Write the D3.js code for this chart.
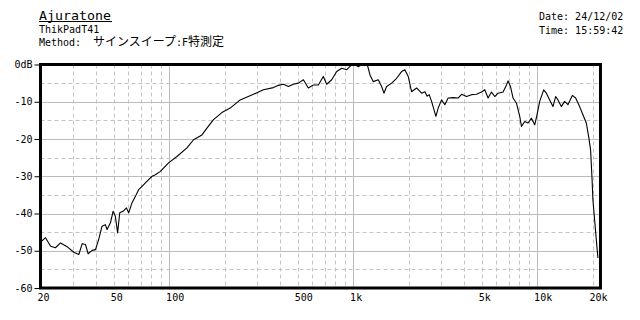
<!DOCTYPE html>
<html>
<head>
<meta charset="utf-8">
<script src="https://cdn.jsdelivr.net/npm/d3@7"></script>
<style>
  html, body { margin: 0; padding: 0; background: #fff; }
  svg { display: block; }
</style>
</head>
<body>
<div id="vis"></div>
<script>
// measured response (Hz / dB)
var freqs = [20, 21.3, 22.7, 24.1, 25.7, 27.9, 30.3, 32.3, 33.7, 35.1, 36.3, 38.2, 39.8, 41.4, 43.2, 45.0, 46.0, 48.0, 49.6, 51.0,
  52.5, 53.9, 56.2, 58.6, 60.3, 62.9, 65.6, 68.3, 71.3, 74.3, 77.4, 80.8, 84.2, 89.6, 99.3, 110.3, 125, 135.8, 150.8, 160.5,
  174.3, 193.6, 214.7, 243.4, 287.4, 325.5, 369, 392.6, 418, 445, 473.6, 504, 536.7, 571, 607.9, 647.3, 688.8, 718.6, 765, 814.5,
  867, 922.8, 982.5, 1024, 1067, 1113, 1160, 1194, 1235, 1287, 1370, 1429, 1471, 1521, 1620, 1724, 1835, 1912, 1993, 2078,
  2213, 2356, 2455, 2527, 2591, 2670, 2818, 2900, 3025, 3152, 3285, 3497, 3722, 3884, 4135, 4401, 4684, 4986, 5196, 5415,
  5650, 5888, 6137, 6532, 6816, 6954, 7165, 7402, 7723, 8046, 8218, 8565, 8925, 9313, 9704, 9988, 10330, 10860, 11230, 11700,
  12195, 12610, 12980, 13540, 14110, 14710, 15540, 16200, 17020, 17740, 18510, 19110, 19530, 19900, 20100, 20530, 20970, 21400]
var levels = [-47.7, -46.5, -48.8, -49.2, -47.9, -48.9, -50.4, -51.0, -48.1, -48.3, -50.8, -49.9, -49.7, -47.0, -43.4, -43.0, -44.3, -42.5, -39.4, -40.7,
  -45.2, -39.8, -39.4, -38.5, -39.8, -37.1, -35.4, -33.6, -32.7, -31.8, -30.9, -30.0, -29.6, -28.7, -26.4, -24.7, -22.4, -20.2, -18.9, -17.1,
  -14.8, -12.9, -11.7, -9.5, -8.0, -6.8, -6.2, -5.6, -5.3, -5.9, -5.3, -5.0, -4.1, -6.3, -5.5, -5.5, -3.2, -5.3, -4.1, -1.9,
  -1.0, -1.4, -0.1, 0, -0.6, 0, -0.3, 0, -2.8, -4.6, -4.1, -5.9, -7.7, -5.9, -5.0, -3.7, -1.9, -1.4, -3.2, -7.3,
  -6.3, -7.7, -7.3, -8.5, -8.1, -9.9, -13.9, -11.7, -9.5, -10.8, -9.0, -8.9, -9.0, -8.0, -8.6, -8.1, -8.0, -7.4, -6.8, -9.0,
  -7.4, -8.6, -7.7, -7.4, -5.5, -4.4, -5.9, -9.0, -10.4, -13.9, -16.6, -15.3, -15.7, -14.4, -16.2, -13.5, -9.9, -6.8, -7.7, -9.5,
  -11.3, -8.6, -9.5, -11.3, -9.9, -10.8, -8.3, -9.0, -11.3, -13.5, -15.7, -19.7, -23.0, -31.0, -36.3, -41.6, -47.0, -51.9]

// axes
var xTicks = [20, 50, 100, 500, 1000, 5000, 10000, 20000]
var xTickLabels = ["20", "50", "100", "500", "1k", "5k", "10k", "20k"]
var yTicks = [0, -10, -20, -30, -40, -50, -60]
var yTickLabels = ["0dB", "-10", "-20", "-30", "-40", "-50", "-60"]
var majorGrid = [100, 1000, 10000]
var minorGrid = [30, 40, 50, 60, 70, 80, 90, 200, 300, 400, 500, 600, 700, 800, 900,
  2000, 3000, 4000, 5000, 6000, 7000, 8000, 9000, 20000]
var dbMajor = [-10, -20, -30, -40, -50]
var dbMinor = [-5, -15, -25, -35, -45, -55]
var fMax = 22100

var mono = "'DejaVu Sans Mono', monospace"
var cjk = "'Noto Sans CJK JP', sans-serif"

var svg = d3.select("#vis")
  .append("svg")
    .attr("width", 640)
    .attr("height", 320)

var x = d3.scaleLog()
    .domain([20, 20000])
    .range([40.5, 592.5])

var y = d3.scaleLinear()
    .domain([-60, 0])
    .range([288, 64.5])

var plotL = x(20), plotR = x(fMax), plotT = y(0), plotB = y(-60)

// grid
var grid = svg.append("g")
grid.selectAll(".vmin").data(minorGrid).enter().append("line")
    .attr("x1", d => Math.round(x(d)) + 0.5).attr("x2", d => Math.round(x(d)) + 0.5)
    .attr("y1", plotT).attr("y2", plotB)
    .attr("stroke", "#c4c4c4").attr("stroke-dasharray", "4,3")
grid.selectAll(".hmin").data(dbMinor).enter().append("line")
    .attr("x1", plotL).attr("x2", plotR)
    .attr("y1", d => Math.round(y(d)) + 0.5).attr("y2", d => Math.round(y(d)) + 0.5)
    .attr("stroke", "#c4c4c4").attr("stroke-dasharray", "4,3")
grid.selectAll(".vmaj").data(majorGrid).enter().append("line")
    .attr("x1", d => Math.round(x(d)) + 0.5).attr("x2", d => Math.round(x(d)) + 0.5)
    .attr("y1", plotT).attr("y2", plotB)
    .attr("stroke", "#bcbcbc")
grid.selectAll(".hmaj").data(dbMajor).enter().append("line")
    .attr("x1", plotL).attr("x2", plotR)
    .attr("y1", d => Math.round(y(d)) + 0.5).attr("y2", d => Math.round(y(d)) + 0.5)
    .attr("stroke", "#bcbcbc")

// response curve
var line = d3.line()
    .x((d, i) => x(freqs[i]))
    .y(d => y(d))

svg.append("path")
    .datum(levels)
    .attr("d", line)
    .attr("fill", "none")
    .attr("stroke", "#000")
    .attr("stroke-width", 1.1)
    .attr("stroke-linejoin", "round")

// frame
svg.append("rect")
    .attr("x", plotL).attr("y", plotT)
    .attr("width", plotR - plotL).attr("height", plotB - plotT)
    .attr("fill", "none")
    .attr("stroke", "#000")
    .attr("stroke-width", 3)

// y axis
var yAxis = svg.append("g")
    .attr("transform", "translate(" + (plotL - 1) + ",0)")
    .call(d3.axisLeft(y).tickValues(yTicks).tickSize(5).tickPadding(2)
      .tickFormat((d, i) => yTickLabels[i]))
    .call(g => g.select(".domain").remove())
yAxis.selectAll("text")
    .attr("fill", "#000")
    .style("font-family", mono)
    .style("font-size", "10px")
yAxis.selectAll("line").attr("stroke", "#000")

// x axis
svg.append("g")
  .selectAll("text")
  .data(xTicks)
  .enter()
  .append("text")
    .attr("x", d => x(d) - 3)
    .attr("y", 301)
    .style("font-family", mono)
    .style("font-size", "10px")
    .text((d, i) => xTickLabels[i])

// header
svg.append("text")
    .attr("x", 39).attr("y", 19.5)
    .attr("textLength", 72).attr("lengthAdjust", "spacingAndGlyphs")
    .style("font-family", mono)
    .style("font-size", "13px")
    .text("Ajuratone")
svg.append("line")
    .attr("x1", 39).attr("x2", 112)
    .attr("y1", 21.5).attr("y2", 21.5)
    .attr("stroke", "#000")

svg.append("text")
    .attr("x", 39).attr("y", 32.5)
    .style("font-family", mono)
    .style("font-size", "10px")
    .text("ThikPadT41")

var method = svg.append("text")
    .attr("x", 39).attr("y", 46)
    .style("font-size", "10px")
method.append("tspan").style("font-family", mono).text("Method:")
method.append("tspan").attr("x", 93).style("font-family", cjk).style("font-size", "12px").text("サインスイープ")
method.append("tspan").style("font-family", mono).text(":F")
method.append("tspan").style("font-family", cjk).style("font-size", "12px").text("特測定")

svg.append("text")
    .attr("x", 539).attr("y", 20)
    .style("font-family", mono)
    .style("font-size", "10px")
    .text("Date: 24/12/02")
svg.append("text")
    .attr("x", 539).attr("y", 33.5)
    .style("font-family", mono)
    .style("font-size", "10px")
    .text("Time: 15:59:42")
</script>
</body>
</html>
